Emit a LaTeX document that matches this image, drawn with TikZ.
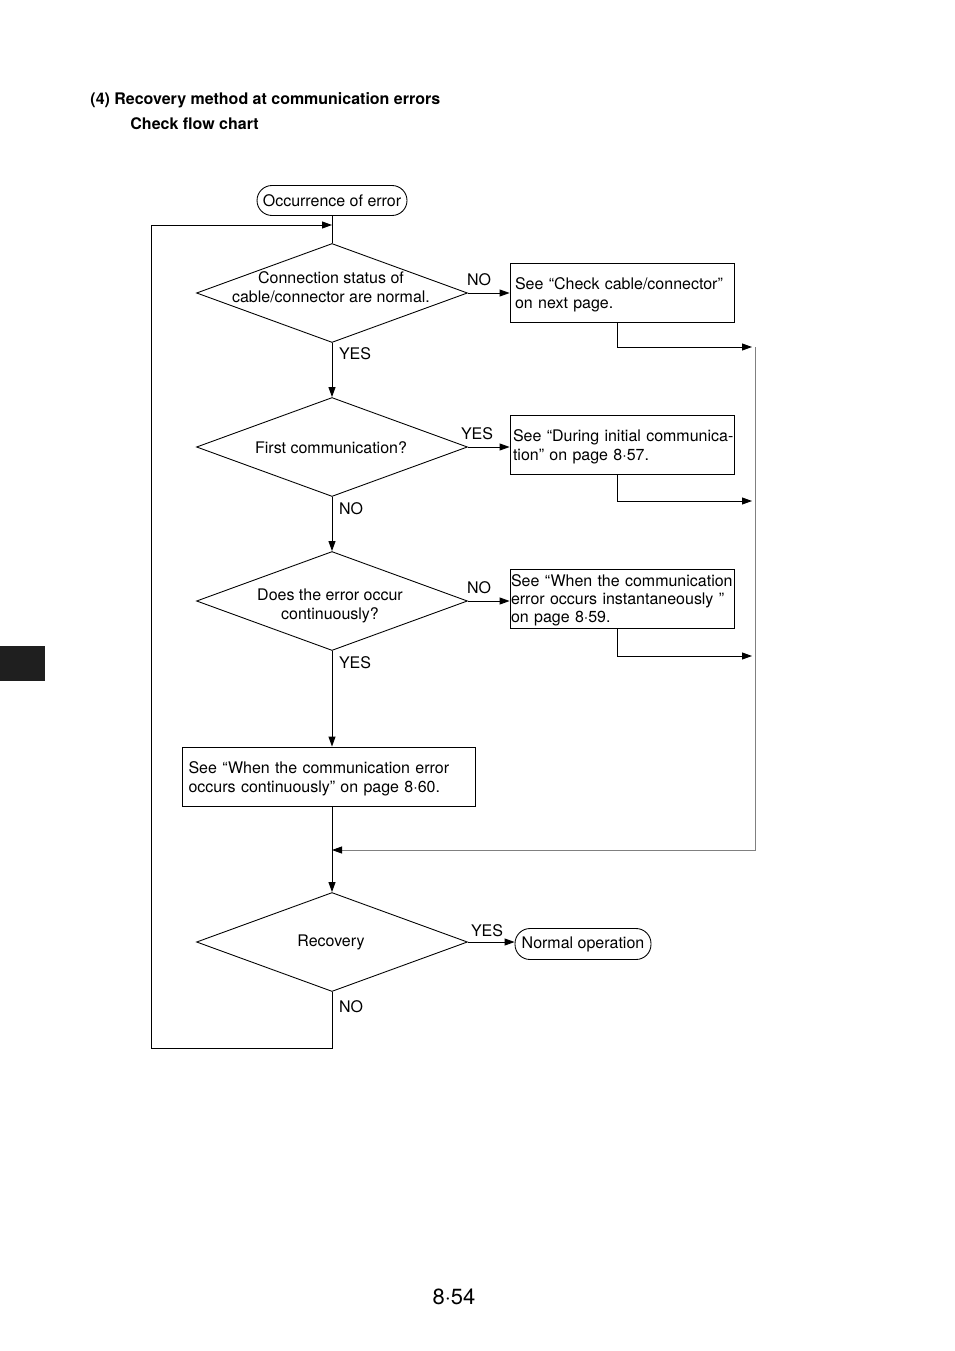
\documentclass[tikz,border=0pt]{standalone}
\usepackage{fontspec}
\setmainfont{TeX Gyre Heros}
\usetikzlibrary{positioning}
\usetikzlibrary{shapes.geometric}
\usetikzlibrary{arrows.meta}

\newcommand\flowfont{\fontsize{9.1}{10.8}\selectfont}

\tikzset{
 dec/.style={draw,diamond,aspect=2.74,minimum width=5.42cm,minimum height=1.98cm,inner sep=0pt},
 dectext/.style={align=center,inner sep=0pt,font=\flowfont},
 refbox/.style={draw,rectangle,minimum width=4.48cm,minimum height=1.18cm,inner xsep=0.1cm,text width=4.28cm,align=left,font=\flowfont,execute at begin node={\rule{0pt}{8.9pt}}},
 term/.style={draw,rounded corners=0.3cm,minimum width=3cm,minimum height=0.6cm,inner sep=0pt,font=\flowfont},
 yn/.style={font=\flowfont,inner sep=0pt},
 arr/.style={-{Triangle[length=0.2cm,width=0.14cm]}},
}

\begin{document}
\begin{tikzpicture}[x=0.02cm,y=-0.02cm,line width=0.5pt]
 \useasboundingbox (0,0) rectangle (954,1351);
 % heading
 \node[anchor=west,inner sep=0pt,font=\bfseries\flowfont] (title) at (90,100) {(4) Recovery method at communication errors};
 \node[anchor=west,inner sep=0pt,font=\bfseries\flowfont] (subtitle) at (130,124) {Check flow chart};
 % flow
 \node[term] (start) at (332,200.5) {Occurrence of error};
 \node[dec] (conn) at (332,293) {};
 \node[dectext] (conntext) at (331,287) {Connection status of\\cable/connector are normal.};
 \node[dec] (first) at (332,447) {};
 \node[dectext] (firsttext) at (331,448) {First communication?};
 \node[dec] (cont) at (332,601) {};
 \node[dectext] (conttext) at (330,606) {Does the error occur\\continuously?};
 \node[dec] (recov) at (332,942) {};
 \node[dectext] (recovtext) at (331,942) {Recovery};
 \node[refbox] (cable) at (622,292.5) {See “Check cable/connector”\\on next page.};
 \node[refbox,inner xsep=0.06cm,text width=4.36cm] (initial) at (622,444.5) {\mbox{See “During initial communica-}\\tion” on page 8·57.};
 \node[refbox,inner xsep=0.02cm,text width=4.44cm,inner ysep=1pt,font=\fontsize{9.1}{10.2}\selectfont] (instant) at (622,598.5) {\mbox{See “When the communication}\\error occurs instantaneously ”\\on page 8·59.};
 \node[refbox,minimum width=5.86cm,inner xsep=0.13cm,text width=5.6cm] (contbox) at (328.5,776.5) {See “When the communication error\\occurs continuously” on page 8·60.};
 \node[term,minimum width=2.72cm,minimum height=0.62cm] (normal) at (583,944) {Normal operation};
 % yes / no
 \node[yn] (no1) at (479,280) {NO};
 \node[yn] (yes1) at (355,354) {YES};
 \node[yn] (yes2) at (477,434) {YES};
 \node[yn] (no2) at (351,509) {NO};
 \node[yn] (no3) at (479,588) {NO};
 \node[yn] (yes3) at (355,663) {YES};
 \node[yn] (yes4) at (487,931) {YES};
 \node[yn] (no4) at (351,1007) {NO};
 % joints
 \coordinate (loop) at (332,225);
 \coordinate (back) at (151,1048);
 \coordinate (r1) at (752,347);
 \coordinate (r2) at (752,501);
 \coordinate (r3) at (752,656);
 \coordinate (g1) at (755,347);
 \coordinate (g2) at (755,850);
 \coordinate (join) at (332,850);
 % connectors
 \draw (start) -- (conn);
 \draw[arr] (conn.south) -- (first.north);
 \draw[arr] (first.south) -- (cont.north);
 \draw[arr] (cont.south) -- (cont.south |- contbox.north);
 \draw[arr] (recov.north |- contbox.south) -- (recov.north);
 \draw[arr] (conn.east) -- (conn.east -| cable.west);
 \draw[arr] (first.east) -- (first.east -| initial.west);
 \draw[arr] (cont.east) -- (cont.east -| instant.west);
 \draw[arr] (recov.east) -- (recov.east -| normal.west);
 \draw[arr] (recov.south) |- (back) |- (loop);
 \draw[arr] ([xshift=-0.1cm]cable.south) |- (r1);
 \draw[arr] ([xshift=-0.1cm]initial.south) |- (r2);
 \draw[arr] ([xshift=-0.1cm]instant.south) |- (r3);
 \draw[gray,-{Triangle[length=0.2cm,width=0.14cm,color=black]}] (g1) -- (g2) -- (join);
 % side tab and page number
 \fill[black!88] (0,646) rectangle (45,681);
 \node[font=\fontsize{12.5}{14}\selectfont] (page) at (454,1297) {8·54};
\end{tikzpicture}
\end{document}
